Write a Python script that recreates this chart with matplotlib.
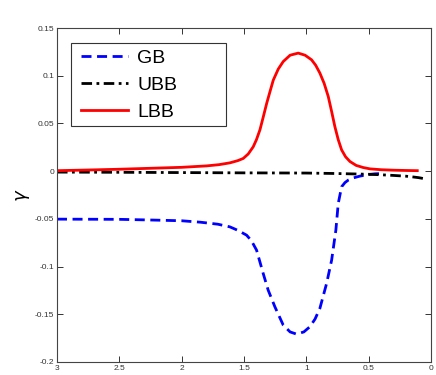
import matplotlib.pyplot as plt
from matplotlib.patches import Rectangle

# GB curve
gb_x = [3.0, 2.75, 2.5, 2.25, 2.0, 1.85, 1.71, 1.613, 1.55, 1.479, 1.44, 1.399, 1.346,
        1.306, 1.252, 1.185, 1.13, 1.078, 1.02, 0.971, 0.93, 0.891, 0.837, 0.797, 0.763,
        0.744, 0.717, 0.69, 0.664, 0.62, 0.57, 0.5, 0.45, 0.4]
gb_y = [-0.0503, -0.0504, -0.0505, -0.0512, -0.052, -0.0535, -0.0556, -0.0584, -0.062,
        -0.0671, -0.073, -0.0828, -0.1072, -0.1247, -0.1422, -0.1614, -0.1685, -0.1708,
        -0.1685, -0.163, -0.155, -0.1437, -0.1175, -0.0933, -0.0618, -0.0339, -0.0164,
        -0.012, -0.0094, -0.007, -0.0052, -0.0035, -0.0028, -0.0025]

# UBB curve
ubb_x = [3.0, 2.5, 2.0, 1.5, 1.0, 0.75, 0.5, 0.4, 0.3, 0.2, 0.15, 0.1, 0.05]
ubb_y = [-0.001, -0.0012, -0.0015, -0.0018, -0.002, -0.0025, -0.0033, -0.0038, -0.0045,
         -0.0053, -0.006, -0.0068, -0.008]

# LBB curve
lbb_x = [3.0, 2.75, 2.5, 2.25, 2.0, 1.8, 1.7, 1.613, 1.55, 1.506, 1.466, 1.426, 1.40,
         1.372, 1.345, 1.318, 1.29, 1.265, 1.225, 1.185, 1.13, 1.065, 1.01, 0.958, 0.925,
         0.891, 0.857, 0.824, 0.797, 0.771, 0.744, 0.717, 0.685, 0.65, 0.6, 0.544, 0.49,
         0.4, 0.3, 0.2, 0.11]
lbb_y = [0.0005, 0.0012, 0.002, 0.003, 0.004, 0.0055, 0.0068, 0.0087, 0.011, 0.0133,
         0.018, 0.0255, 0.033, 0.0433, 0.057, 0.071, 0.084, 0.0954, 0.107, 0.1149, 0.1215,
         0.1237, 0.1215, 0.1167, 0.111, 0.1027, 0.092, 0.0782, 0.0625, 0.0467, 0.033,
         0.0223, 0.015, 0.0101, 0.006, 0.0038, 0.0024, 0.0015, 0.001, 0.0007, 0.0005]

xticks = [3, 2.5, 2, 1.5, 1, 0.5, 0]
xtick_labels = ['3', '2.5', '2', '1.5', '1', '0.5', '0']
yticks = [-0.2, -0.15, -0.1, -0.05, 0, 0.05, 0.1, 0.15]
ytick_labels = ['-0.2', '-0.15', '-0.1', '-0.05', '0', '0.05', '0.1', '0.15']

plt.rcParams['font.family'] = ['Liberation Sans', 'DejaVu Sans']

fig = plt.figure(figsize=(4.36, 3.75), dpi=100)
ax = fig.add_axes([0.1307, 0.0347, 0.8578, 0.8906])

ax.plot(gb_x, gb_y, color='#0000ff', linestyle=(0, (3.6, 2.0)), linewidth=2.0, label='GB')
ax.plot(ubb_x, ubb_y, color='black', linestyle=(0, (3.8, 1.6, 1, 1.6)), linewidth=2.0, label='UBB')
ax.plot(lbb_x, lbb_y, color='#ff0000', linestyle='-', linewidth=2.0, label='LBB')

ax.set_xlim(3, 0)
ax.set_ylim(-0.2, 0.15)
ax.set_xticks(xticks)
ax.set_xticklabels(xtick_labels)
ax.set_yticks(yticks)
ax.set_yticklabels(ytick_labels)
ax.tick_params(direction='in', top=True, right=True, length=4, width=0.7,
               labelsize=6, colors='#333333', pad=2)
for s in ax.spines.values():
    s.set_color('#444444')
    s.set_linewidth(0.8)

ax.set_ylabel(r'$\gamma$', fontsize=13, rotation=90, labelpad=2)

# legend box is wider than its contents, as in the original
ax.add_patch(Rectangle((0.0374, 0.7066), 0.4146, 0.2484, transform=ax.transAxes,
                       facecolor='white', edgecolor='#333333', linewidth=0.8, zorder=4))
leg = ax.legend(loc='upper left', bbox_to_anchor=(0.0465, 0.955), fontsize=14,
                handlelength=2.4, frameon=False, borderpad=0.34,
                labelspacing=0.47, handletextpad=0.5, borderaxespad=0)
leg.set_zorder(5)

fig.savefig('out.png', dpi=100)
